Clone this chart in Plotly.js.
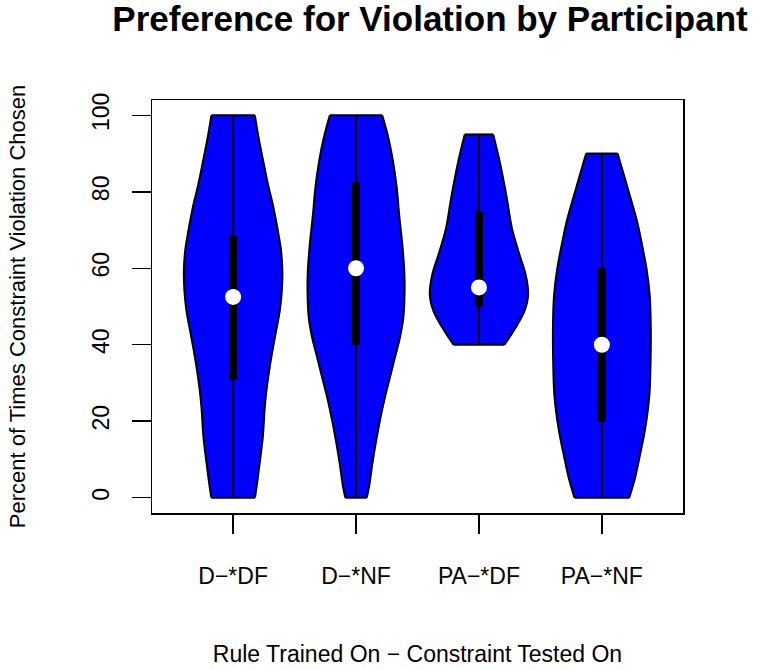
<!DOCTYPE html>
<html>
<head>
<meta charset="utf-8">
<script src="https://cdn.plot.ly/plotly-3.0.1.min.js"></script>
<style>body{margin:0;padding:0;background:#fff}#chart{width:761px;height:670px}</style>
</head>
<body>
<div id="chart"></div>
<script>
// Categories and summary statistics
const categories = ['D\u2212*DF', 'D\u2212*NF', 'PA\u2212*DF', 'PA\u2212*NF'];
const minVals = [0, 0, 40, 0];
const maxVals = [100, 100, 95, 90];
const q1Vals = [31, 40, 50, 20];
const q3Vals = [68.5, 82.5, 75, 60];
const medianVals = [52.5, 60, 55, 40];

// Estimated density profiles (value levels and half-widths in category units)
const dens1Y = [0, 5, 10, 16, 23, 28, 33, 38.5, 44, 49, 54, 59, 64.6, 70, 76, 82, 88, 94, 100];
const dens1W = [0.178, 0.2, 0.22, 0.242, 0.256, 0.271, 0.292, 0.32, 0.352, 0.38, 0.396, 0.401, 0.39, 0.363, 0.327, 0.283, 0.245, 0.208, 0.177];
const dens2Y = [0, 2.9, 9, 14.2, 20.3, 26.4, 31.6, 36.8, 42, 47.2, 54.2, 59.4, 66.3, 74.2, 81.1, 88.1, 94.2, 100];
const dens2W = [0.087, 0.106, 0.133, 0.16, 0.195, 0.236, 0.277, 0.317, 0.358, 0.385, 0.395, 0.392, 0.376, 0.35, 0.331, 0.3, 0.262, 0.213];
const dens3Y = [40, 44.4, 48.7, 53.1, 58.3, 63.5, 70.5, 79.2, 88, 95];
const dens3W = [0.207, 0.296, 0.369, 0.400, 0.380, 0.330, 0.268, 0.222, 0.168, 0.116];
const dens4Y = [0, 5.2, 11.2, 18, 26.7, 35.3, 44, 52.6, 59.5, 66.4, 72.4, 77.6, 83.7, 90];
const dens4W = [0.223, 0.27, 0.31, 0.352, 0.386, 0.396, 0.398, 0.39, 0.365, 0.325, 0.285, 0.24, 0.185, 0.128];

const densY = [dens1Y, dens2Y, dens3Y, dens4Y];
const densW = [dens1W, dens2W, dens3W, dens4W];

const traces = [];
const edgeTraces = [];
// Violin bodies: right side, then left side filled to it
for (let i = 0; i < categories.length; i++) {
  const c = i + 1;
  const ys = densY[i], ws = densW[i];
  const n = ys.length;
  traces.push({
    type: 'scatter', mode: 'lines',
    x: ws.map(w => c + w), y: ys,
    line: {color: '#000000', width: 2, shape: 'spline', smoothing: 1},
    hoverinfo: 'skip', showlegend: false
  });
  traces.push({
    type: 'scatter', mode: 'lines',
    x: ws.map(w => c - w), y: ys,
    fill: 'tonextx', fillcolor: '#0000ff',
    line: {color: '#000000', width: 2, shape: 'spline', smoothing: 1},
    hoverinfo: 'skip', showlegend: false
  });
  // flat ends at the minimum and maximum
  edgeTraces.push({
    type: 'scatter', mode: 'lines',
    x: [c - ws[0], c + ws[0], null, c - ws[n - 1], c + ws[n - 1]],
    y: [ys[0], ys[0], null, ys[n - 1], ys[n - 1]],
    line: {color: '#000000', width: 2}, hoverinfo: 'skip', showlegend: false
  });
}
edgeTraces.forEach(t => traces.push(t));
// Whisker lines (min to max)
for (let i = 0; i < categories.length; i++) {
  traces.push({
    type: 'scatter', mode: 'lines', x: [i + 1, i + 1], y: [minVals[i], maxVals[i]],
    line: {color: '#000000', width: 2}, hoverinfo: 'skip', showlegend: false
  });
}
// Boxes (q1 to q3)
for (let i = 0; i < categories.length; i++) {
  traces.push({
    type: 'scatter', mode: 'lines', x: [i + 1, i + 1], y: [q1Vals[i], q3Vals[i]],
    line: {color: '#000000', width: 8}, hoverinfo: 'skip', showlegend: false
  });
}
// Medians
traces.push({
  type: 'scatter', mode: 'markers', x: [1, 2, 3, 4], y: medianVals,
  marker: {color: '#ffffff', size: 16, line: {width: 0}},
  hoverinfo: 'skip', showlegend: false
});

const font = 'Liberation Sans, Arial, Helvetica, sans-serif';
const layout = {
  width: 761, height: 670,
  margin: {l: 152, r: 78, t: 100, b: 157},
  paper_bgcolor: '#ffffff', plot_bgcolor: '#ffffff',
  font: {family: font, size: 23, color: '#000000'},
  title: {
    text: '<b>Preference for Violation by Participant</b>',
    font: {family: font, size: 35, color: '#000000'},
    xref: 'container', x: 430 / 761, xanchor: 'center',
    yref: 'container', y: 1 - 19 / 670, yanchor: 'middle'
  },
  xaxis: {
    range: [0.34, 4.66], tickvals: [1, 2, 3, 4], ticktext: categories,
    ticks: 'outside', ticklen: 19, tickwidth: 1.5, tickcolor: '#000',
    showgrid: false, zeroline: false,
    showline: true, mirror: true, linecolor: '#000', linewidth: 1.5,
    tickfont: {family: font, size: 23}, ticklabelstandoff: 23,
    title: {text: 'Rule Trained On \u2212 Constraint Tested On', font: {family: font, size: 23}, standoff: 58}
  },
  yaxis: {
    range: [-4, 104], tickvals: [0, 20, 40, 60, 80, 100],
    ticks: 'outside', ticklen: 19, tickwidth: 1.5, tickcolor: '#000',
    tickangle: -90,
    showgrid: false, zeroline: false,
    showline: true, mirror: true, linecolor: '#000', linewidth: 1.5,
    tickfont: {family: font, size: 23}, ticklabelstandoff: 13,
    title: {text: 'Percent of Times Constraint Violation Chosen', font: {family: font, size: 22}, standoff: 56}
  }
};

Plotly.newPlot('chart', traces, layout, {displayModeBar: false, staticPlot: true});
</script>
</body>
</html>
